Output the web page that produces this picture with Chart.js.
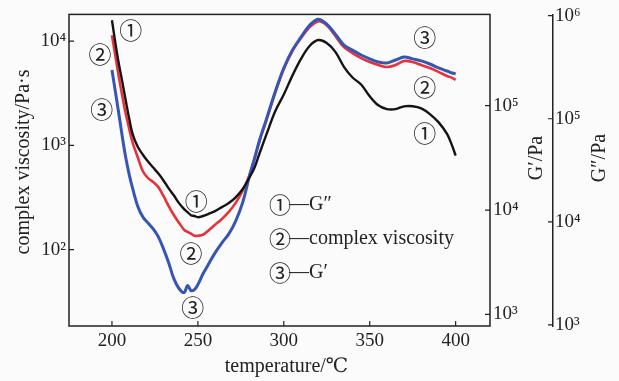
<!DOCTYPE html>
<html>
<head>
<meta charset="utf-8">
<script src="https://cdn.jsdelivr.net/npm/chart.js@4.4.1/dist/chart.umd.min.js"></script>
<style>
  html, body { margin: 0; padding: 0; background: #fbfbfb; }
  #wrap { width: 619px; height: 381px; }
</style>
</head>
<body>
<div id="wrap"><canvas id="chart"></canvas></div>
<script>
// temperature grid (°C)
const temps = [200, 202, 204, 206, 208, 210, 212, 215, 218, 221, 224, 227, 230, 233, 236, 239,
  242, 244, 246, 248, 250, 253, 256, 260, 264, 268, 272, 276, 280, 283, 286, 290, 295, 300,
  305, 310, 315, 320, 325, 330, 335, 340, 345, 350, 355, 360, 365, 370, 375, 380, 385, 390,
  395, 398, 400];

// ① G'' / Pa
const gDoublePrime = [902000, 542000, 341000, 229000, 151000, 101000, 71200, 53400, 44800, 38400,
  33600, 29400, 25200, 21100, 18100, 15200, 13300, 12400, 11600, 11400, 11100, 11400, 11900,
  12700, 13900, 15200, 17300, 20700, 26900, 33600, 46800, 71200, 118000, 172000, 262000,
  381000, 508000, 580000, 542000, 445000, 319000, 251000, 215000, 165000, 135000, 124000,
  124000, 132000, 132000, 126000, 111000, 92700, 71200, 54600, 43900];

// ② complex viscosity / Pa·s
const viscosity = [11400, 7200, 4540, 2990, 2020, 1450, 1070, 769, 565, 485, 445, 398, 327, 262,
  215, 181, 155, 148, 142, 136, 136, 139, 152, 173, 197, 230, 281, 365, 518, 752, 1120, 1770,
  3200, 5410, 8030, 10700, 13600, 15500, 14200, 11200, 8770, 7690, 6890, 6310, 5910, 5650,
  5910, 6460, 6310, 5910, 5530, 5070, 4640, 4440, 4250];

// ③ G' / Pa
const gPrime = [220000, 136000, 83900, 50700, 32000, 22000, 16200, 10900, 8570, 7520, 6590, 5530,
  4250, 3130, 2200, 1770, 1620, 1890, 1690, 1730, 1930, 2450, 2990, 3890, 4850, 5910, 7850,
  11700, 21100, 31300, 47400, 75200, 136000, 230000, 341000, 454000, 591000, 674000, 604000,
  485000, 381000, 341000, 306000, 281000, 262000, 257000, 274000, 293000, 281000, 269000,
  251000, 230000, 215000, 206000, 202000];

const xTicks = [200, 250, 300, 350, 400];
const etaTicks = [1e2, 1e3, 1e4];
const gpTicks = [1e3, 1e4, 1e5];
const gppTicks = [1e3, 1e4, 1e5, 1e6];

// curve labels: [text, temperature, viscosity-axis value]
const curveLabels = [
  ['①', 211, 12700], ['②', 193, 7500], ['③', 194, 2200],
  ['①', 249, 293], ['②', 246, 92], ['③', 247, 28],
  ['③', 382, 10900], ['②', 382, 3650], ['①', 382, 1300]
];
const legendRows = [['①', '—G″'], ['②', '—complex viscosity'], ['③', '—G′']];

const SERIF = "'Liberation Serif', 'DejaVu Serif', serif";
const INK = '#222';
const sup = { 1: '¹', 2: '²', 3: '³', 4: '⁴', 5: '⁵', 6: '⁶' };
const powLabel = v => '10' + sup[Math.round(Math.log10(v))];
const setTicks = list => scale => { scale.ticks = list.map(v => ({ value: v })); };

function pts(ys) {
  return temps.map((t, i) => ({ x: t, y: ys[i] }));
}

// frame, inward tick marks, titles, labels
const decor = {
  id: 'decor',
  afterDraw(chart) {
    const { ctx, chartArea: a, scales } = chart;
    ctx.save();
    ctx.strokeStyle = INK;
    ctx.lineWidth = 1.5;
    ctx.strokeRect(a.left, a.top, a.right - a.left, a.bottom - a.top);

    ctx.lineWidth = 1.2;
    ctx.beginPath();
    xTicks.forEach(v => {
      const x = scales.x.getPixelForValue(v);
      ctx.moveTo(x, a.bottom); ctx.lineTo(x, a.bottom - 5);
    });
    etaTicks.forEach(v => {
      const y = scales.y.getPixelForValue(v);
      ctx.moveTo(a.left, y); ctx.lineTo(a.left + 5, y);
    });
    gpTicks.forEach(v => {
      const y = scales.yG1.getPixelForValue(v);
      ctx.moveTo(a.right, y); ctx.lineTo(a.right - 5, y);
    });
    const gx = scales.yG2.left;
    gppTicks.forEach(v => {
      const y = scales.yG2.getPixelForValue(v);
      ctx.moveTo(gx, y); ctx.lineTo(gx - 5, y);
    });
    ctx.stroke();

    ctx.fillStyle = INK;
    ctx.font = '20px ' + SERIF;
    ctx.textAlign = 'center';
    ctx.textBaseline = 'middle';
    ctx.fillText('temperature/℃', (a.left + a.right) / 2 + 7, 367);

    const vtitle = (txt, x, y) => {
      ctx.save();
      ctx.translate(x, y);
      ctx.rotate(-Math.PI / 2);
      ctx.fillText(txt, 0, 0);
      ctx.restore();
    };
    vtitle('complex viscosity/Pa·s', 24, 162);
    vtitle('G′/Pa', 537, 158);
    vtitle('G″/Pa', 600, 158);

    ctx.font = "23px 'Noto Sans CJK SC', " + SERIF;
    curveLabels.forEach(([txt, t, v]) => {
      ctx.fillText(txt, scales.x.getPixelForValue(t), scales.y.getPixelForValue(v));
    });

    legendRows.forEach(([mark, txt], i) => {
      const y = a.top + 190 + i * 34;
      ctx.textAlign = 'center';
      ctx.font = "22px 'Noto Sans CJK SC', " + SERIF;
      ctx.fillText(mark, a.left + 211, y);
      ctx.textAlign = 'left';
      ctx.font = '20px ' + SERIF;
      ctx.fillText(txt, a.left + 220, y);
    });
    ctx.restore();
  }
};

const tickFont = { family: SERIF, size: 19 };
const noGrid = { display: false, drawTicks: false };

new Chart(document.getElementById('chart'), {
  type: 'line',
  data: {
    datasets: [
      { label: 'G″', data: pts(gDoublePrime), yAxisID: 'yG2', borderColor: '#141414', borderWidth: 2.4 },
      { label: "G′", data: pts(gPrime), yAxisID: 'yG1', borderColor: '#3755b4', borderWidth: 3 },
      { label: 'complex viscosity', data: pts(viscosity), yAxisID: 'y', borderColor: '#e8323a', borderWidth: 2.6 }
    ]
  },
  options: {
    responsive: true,
    maintainAspectRatio: false,
    animation: false,
    devicePixelRatio: 1,
    layout: { padding: { top: 12, left: 0, right: 0, bottom: 0 } },
    elements: {
      point: { radius: 0 },
      line: { tension: 0.35, fill: false }
    },
    plugins: { legend: { display: false }, tooltip: { enabled: false } },
    scales: {
      x: {
        type: 'linear', min: 175, max: 420,
        afterBuildTicks: setTicks(xTicks),
        afterFit: s => { s.height = 55; },
        grid: noGrid, border: { display: false },
        ticks: { font: tickFont, color: INK, padding: 4, maxRotation: 0 }
      },
      y: {
        type: 'logarithmic', position: 'left', min: 18.5, max: 18070,
        afterBuildTicks: setTicks(etaTicks),
        afterFit: s => { s.width = 69; },
        grid: noGrid, border: { display: false },
        ticks: { font: tickFont, color: INK, padding: 3, callback: powLabel }
      },
      yG1: {
        type: 'logarithmic', position: 'right', weight: 0, min: 774, max: 750000,
        afterBuildTicks: setTicks(gpTicks),
        afterFit: s => { s.width = 63; },
        grid: noGrid, border: { display: false },
        ticks: { font: tickFont, color: INK, padding: 3, callback: powLabel }
      },
      yG2: {
        type: 'logarithmic', position: 'right', weight: 1, min: 977, max: 1028000,
        afterBuildTicks: setTicks(gppTicks),
        afterFit: s => { s.width = 66; },
        grid: noGrid, border: { display: true, color: INK, width: 1.5 },
        ticks: { font: tickFont, color: INK, padding: 2, callback: powLabel }
      }
    }
  },
  plugins: [decor]
});
</script>
</body>
</html>
